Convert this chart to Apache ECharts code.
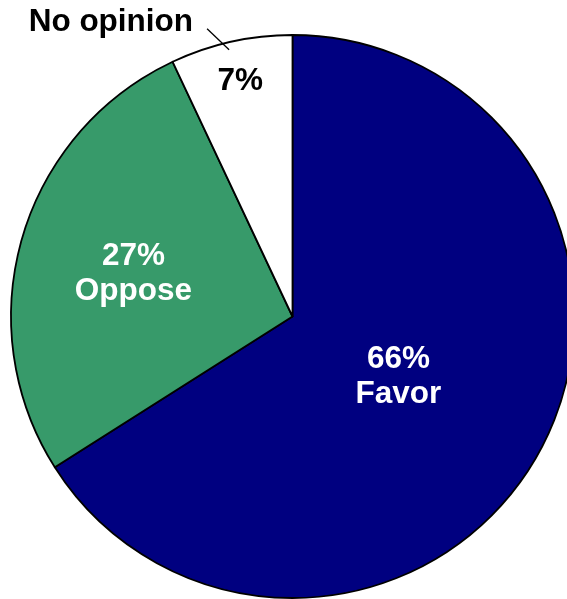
<!DOCTYPE html>
<html>
<head>
<meta charset="utf-8">
<script src="https://cdn.jsdelivr.net/npm/echarts@6/dist/echarts.min.js"></script>
<style>
html,body{margin:0;padding:0;background:#fff;}
#chart{width:567px;height:599px;}
</style>
</head>
<body>
<div id="chart"></div>
<script>
const categories = ['Favor', 'Oppose', 'No opinion'];
const values = [66, 27, 7];
const colors = ['#000080', '#379a6a', '#ffffff'];
const labelColors = ['#ffffff', '#ffffff', '#000000'];
const labelShift = [[-20, -9], [-21, -3], [-21, -95]];

const FONT = '"Liberation Sans", Arial, sans-serif';
const chart = echarts.init(document.getElementById('chart'), null, {renderer: 'canvas'});

const mainData = categories.map((c, i) => ({
  name: c,
  value: values[i],
  itemStyle: {color: colors[i]},
  label: {
    color: labelColors[i],
    formatter: i < 2 ? '{c}%\n{b}' : '{c}%'
  }
}));

const overlayData = categories.map((c, i) => ({
  name: c,
  value: values[i],
  label: {show: i === 2},
  labelLine: {show: i === 2}
}));

chart.setOption({
  animation: false,
  backgroundColor: '#ffffff',
  series: [
    {
      type: 'pie',
      center: [292.5, 316.5],
      radius: 281.5,
      startAngle: 90,
      clockwise: true,
      silent: true,
      data: mainData,
      itemStyle: {borderColor: '#000000', borderWidth: 1.8},
      label: {
        show: true,
        position: 'inside',
        fontFamily: FONT,
        fontWeight: 'bold',
        fontSize: 31.5,
        lineHeight: 35,
        align: 'center'
      },
      labelLine: {show: false},
      labelLayout: function (p) {
        const s = labelShift[p.dataIndex];
        return {dx: s[0], dy: s[1]};
      }
    },
    {
      type: 'pie',
      center: [292.5, 316.5],
      radius: 281.5,
      startAngle: 90,
      clockwise: true,
      silent: true,
      z: 3,
      data: overlayData,
      itemStyle: {color: 'rgba(0,0,0,0)', borderWidth: 0},
      label: {
        position: 'outside',
        formatter: '{b}',
        color: '#000000',
        fontFamily: FONT,
        fontWeight: 'bold',
        fontSize: 31.5
      },
      labelLine: {
        length: 20,
        length2: 0,
        lineStyle: {color: '#000000', width: 1.3}
      },
      labelLayout: function (p) {
        if (p.dataIndex !== 2 || !p.labelLinePoints) return {};
        const a = p.labelLinePoints[0];
        return {
          x: a[0] - 38,
          y: a[1] - 19,
          align: 'right',
          verticalAlign: 'middle',
          labelLinePoints: [[a[0] - 2, a[1] + 8], [a[0] - 24, a[1] - 13], [a[0] - 24, a[1] - 13]]
        };
      }
    }
  ]
});
</script>
</body>
</html>
